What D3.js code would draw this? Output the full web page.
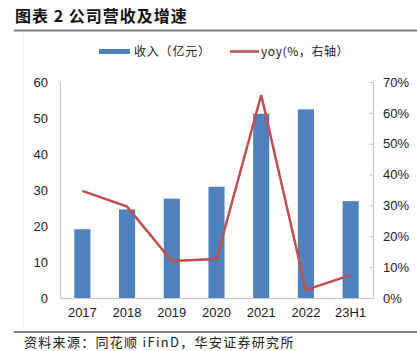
<!DOCTYPE html>
<html>
<head>
<meta charset="utf-8">
<script src="https://cdn.jsdelivr.net/npm/d3@7"></script>
<style>
  body { margin: 0; background: #fff; }
  svg { display: block; }
</style>
</head>
<body>
<svg id="chart" width="417" height="351"></svg>
<script>
// data
const years = ['2017', '2018', '2019', '2020', '2021', '2022', '23H1']
const revenue = [19.1, 24.6, 27.6, 30.9, 51.2, 52.4, 26.9]   // 亿元
const yoy = [34.7, 29.6, 12.0, 12.6, 65.8, 2.6, 7.4]         // %
const leftTicks = [0, 10, 20, 30, 40, 50, 60]
const rightTicks = [0, 10, 20, 30, 40, 50, 60, 70]

const svg = d3.select('#chart')
const margin = {top: 82, bottom: 53, left: 60, right: 44}
const width = 417
const height = 351
const inW = width - margin.left - margin.right
const inH = height - margin.top - margin.bottom
const sans = 'Liberation Sans, Arial, sans-serif'
const cjk = '"Noto Sans CJK SC", sans-serif'

// title + rules
svg.append('text')
  .attr('x', 15).attr('y', 22)
  .attr('font-family', cjk)
  .attr('font-weight', 'bold')
  .attr('font-size', 16)
  .attr('letter-spacing', 1)
  .attr('fill', '#111')
  .text('图表 2 公司营收及增速')

svg.append('line')
  .attr('x1', 14).attr('x2', 417).attr('y1', 30.5).attr('y2', 30.5)
  .attr('stroke', '#808080').attr('stroke-width', 2)

svg.append('line')
  .attr('x1', 23.5).attr('x2', 23.5).attr('y1', 32).attr('y2', 326)
  .attr('stroke', '#f2f2f2').attr('stroke-width', 1)

svg.append('line')
  .attr('x1', 14).attr('x2', 417).attr('y1', 332).attr('y2', 332)
  .attr('stroke', '#808080').attr('stroke-width', 2)

svg.append('text')
  .attr('x', 24).attr('y', 347)
  .attr('font-family', cjk)
  .attr('font-size', 13)
  .attr('letter-spacing', 1.3)
  .attr('fill', '#222')
  .text('资料来源：同花顺 iFinD，华安证券研究所')

// scales
const x = d3.scaleBand().domain(years).range([0, inW]).paddingInner(0.64).paddingOuter(0.32)
const yL = d3.scaleLinear().domain([0, 60]).range([inH, 0])
const yR = d3.scaleLinear().domain([0, 70]).range([inH, 0])

const g = svg.append('g')
  .attr('transform', 'translate(' + margin.left + ',' + margin.top + ')')

// bars
g.selectAll('rect.bar')
  .data(years)
  .join('rect')
  .attr('class', 'bar')
  .attr('x', d => x(d))
  .attr('width', x.bandwidth())
  .attr('y', (d, i) => yL(revenue[i]))
  .attr('height', (d, i) => inH - yL(revenue[i]))
  .attr('fill', '#4f81bd')

// axes
const leftAxis = g.append('g')
  .call(d3.axisLeft(yL).tickValues(leftTicks).tickSize(0).tickPadding(12))
leftAxis.select('.domain').attr('stroke', '#c8c8c8')

const rightAxis = g.append('g')
  .attr('transform', 'translate(' + inW + ',0)')
  .call(d3.axisRight(yR).tickValues(rightTicks).tickSize(-4).tickPadding(10)
    .tickFormat(d => d + '%'))
rightAxis.select('.domain').attr('stroke', '#c8c8c8')
rightAxis.selectAll('.tick line').attr('stroke', '#c8c8c8')

const bottomAxis = g.append('g')
  .attr('transform', 'translate(0,' + inH + ')')
  .call(d3.axisBottom(x).tickSize(0).tickPadding(10))
bottomAxis.select('.domain').attr('stroke', '#c8c8c8')

g.selectAll('.tick text')
  .attr('font-family', sans)
  .attr('font-size', 13)
  .attr('fill', '#222')

// yoy line
const line = d3.line()
  .x((d, i) => x(years[i]) + x.bandwidth() / 2)
  .y(d => yR(d))

g.append('path')
  .datum(yoy)
  .attr('d', line)
  .attr('fill', 'none')
  .attr('stroke', '#c0504d')
  .attr('stroke-width', 2.5)

// legend
const lg = svg.append('g')
lg.append('rect')
  .attr('x', 99).attr('y', 49).attr('width', 31).attr('height', 5)
  .attr('fill', '#4f81bd')
lg.append('text')
  .attr('x', 134).attr('y', 56)
  .attr('font-family', cjk).attr('font-size', 12).attr('letter-spacing', 0.8).attr('fill', '#222')
  .text('收入（亿元）')
lg.append('line')
  .attr('x1', 230).attr('x2', 259).attr('y1', 51.5).attr('y2', 51.5)
  .attr('stroke', '#c0504d').attr('stroke-width', 2.5)
lg.append('text')
  .attr('x', 261).attr('y', 56)
  .attr('font-family', cjk).attr('font-size', 12).attr('letter-spacing', 0.6).attr('fill', '#222')
  .text('yoy(%，右轴）')
</script>
</body>
</html>
